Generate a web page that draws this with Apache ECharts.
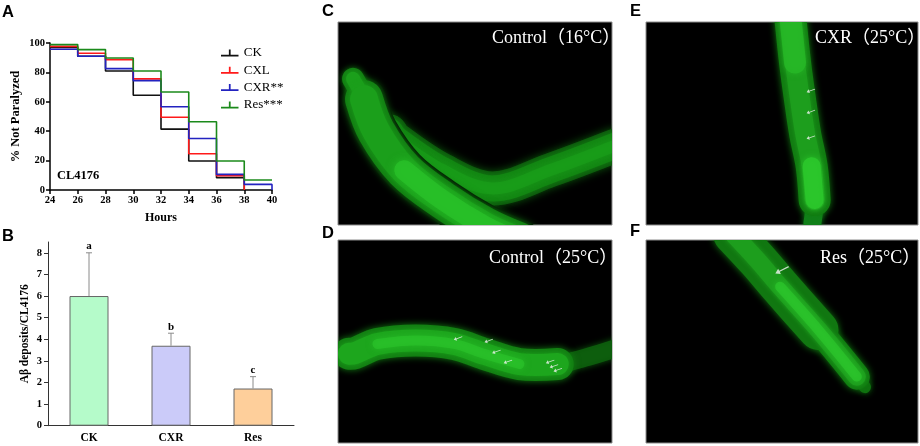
<!DOCTYPE html>
<html><head><meta charset="utf-8">
<script src="https://cdn.jsdelivr.net/npm/echarts@6/dist/echarts.min.js"></script>
<style>html,body{margin:0;padding:0;background:#fff}#c{width:920px;height:446px}</style>
</head><body><div id="c"></div>
<script>
// ---------- Panel A: % not paralyzed (step curves) ----------
const hours = [24,26,28,30,32,34,36,38,40];
const ckA  = [97,91,81,64.5,41.4,19.7,8.4,0];
const cxlA = [97.7,93,88.7,75.6,49.5,24.7,9.7,0];
const cxrA = [95.7,91,82.6,74.4,56.6,35,10.6,3.8,0];
const resA = [98.9,95.5,89.8,81,66.7,46.4,19.7,6.8,6.8];
const survivalNames = ['CK','CXL','CXR**','Res***'];
// ---------- Panel B: Aβ deposits ----------
const barCats = ['CK','CXR','Res'];
const barMeans = [6.0,3.7,1.72];
const barErrTop = [8.0,4.28,2.27];
const barLetters = ['a','b','c'];
const yTicksB = [0,1,2,3,4,5,6,7,8];
// ---------- Panels C–F: micrograph traces (percent of panel) ----------
const wormC1 = [[5.5,28],[9.5,38],[14,54],[24.2,73],[38.2,87.7],[53.6,100.5],[66,108]];
const wormC2 = [[19,54],[21.4,58],[38.2,73],[56.4,82],[77.4,73],[101,61]];
const wormD  = [[4,56],[6,55.8],[14.4,51.2],[28.4,49.5],[42.4,51.2],[53.6,56.2],[66.2,61.1],[80.2,61.1],[91.4,57.5],[101,53.5]];
const wormE  = [[53,-3],[54.8,20],[56.6,38],[58.5,55],[60.9,71],[62,87.7],[61.2,99]];
const wormF  = [[32,-3],[41,10],[49.3,23],[63.4,44.3],[77.5,67.3],[80.5,72.5]];
const arrowsD = [[43.8,48.4],[55,49.6],[57.8,55],[62,59.9],[77.4,59.9],[78.8,62.1],[80.2,64]];
const arrowsE = [[60.6,33.8],[60.6,44.2],[60.6,56.8]];
const arrowsF = [[50,14.8]];
const captions = ['Control（16°C）','Control（25°C）','CXR（25°C）','Res（25°C）'];

// ---------- styles ----------
const serif = '"Liberation Serif","Times New Roman","Noto Sans CJK SC",serif';
const sans = '"Liberation Sans",Arial,sans-serif';
const lineColors = ['#111111','#ff1a1a','#2323c0','#1b8a1b'];
const barColors = ['#b5fbca','#cbcbf9','#fecf9b'];

const chart = echarts.init(document.getElementById('c'));

const imgGrids = [
  {left:338, top:22, width:274, height:203},  // C
  {left:338, top:240, width:274, height:203}, // D
  {left:646, top:22, width:272, height:203},  // E
  {left:646, top:240, width:272, height:203}  // F
];

const grids = [
  {left:50, top:43, width:222, height:147},
  {left:48, top:242, width:246, height:183.7}
].concat(imgGrids.map(g => Object.assign({show:true, backgroundColor:'#000', borderColor:'#8c8c8c', borderWidth:1}, g)));

const boldLbl = (s) => ({fontFamily:serif, fontWeight:'bold', fontSize:s, color:'#000'});

const xAxes = [
  {gridIndex:0, type:'value', min:24, max:40, interval:2,
   axisLine:{lineStyle:{color:'#000', width:1.5}}, axisTick:{length:4, lineStyle:{color:'#000', width:1.5}},
   axisLabel:Object.assign({margin:5}, boldLbl(10.5)), splitLine:{show:false},
   name:'Hours', nameLocation:'middle', nameGap:22, nameTextStyle:boldLbl(12)},
  {gridIndex:1, type:'category', data:barCats,
   axisLine:{lineStyle:{color:'#333', width:1}},
   axisTick:{alignWithLabel:true, length:4, interval:(i)=>i===1, lineStyle:{color:'#333'}},
   axisLabel:Object.assign({margin:7}, boldLbl(11.5))}
];
const yAxes = [
  {gridIndex:0, type:'value', min:0, max:100, interval:20,
   axisLine:{show:true, lineStyle:{color:'#000', width:1.5}}, axisTick:{show:true, length:4, lineStyle:{color:'#000', width:1.5}},
   axisLabel:Object.assign({margin:5}, boldLbl(10.5)), splitLine:{show:false},
   name:'% Not Paralyzed', nameLocation:'middle', nameGap:28, nameTextStyle:boldLbl(12.5)},
  {gridIndex:1, type:'value', min:0, max:8.5, interval:1,
   axisLine:{show:true, lineStyle:{color:'#333', width:1}},
   axisTick:{show:true, length:4, customValues:yTicksB, lineStyle:{color:'#333'}},
   axisLabel:Object.assign({margin:6, customValues:yTicksB}, boldLbl(10.5)), splitLine:{show:false},
   name:'Aβ deposits/CL4176', nameLocation:'middle', nameGap:17, nameTextStyle:boldLbl(11.5)}
];
for (let i = 0; i < 4; i++) {
  xAxes.push({gridIndex:i+2, type:'value', min:0, max:100, show:false});
  yAxes.push({gridIndex:i+2, type:'value', min:0, max:100, inverse:true, show:false});
}

const series = [];
[ckA, cxlA, cxrA, resA].forEach((vals, k) => {
  series.push({type:'line', name:survivalNames[k], xAxisIndex:0, yAxisIndex:0, step:'end', symbol:'none',
    data: vals.map((v, i) => [hours[i], v]), color:lineColors[k],
    lineStyle:{width:1.6, color:lineColors[k]}, z:3});
});
series.push({type:'bar', name:'deposits', xAxisIndex:1, yAxisIndex:1, barWidth:39,
  data: barMeans.map((v, i) => ({value:v, itemStyle:{color:barColors[i]}})),
  itemStyle:{borderColor:'#666', borderWidth:1}, z:2});
series.push({type:'custom', name:'err', xAxisIndex:1, yAxisIndex:1, z:3,
  data: barCats.map((c, i) => [i, barMeans[i], barErrTop[i]]),
  renderItem(params, api) {
    const x = api.value(0);
    const p0 = api.coord([x, api.value(1)]);
    const p1 = api.coord([x, api.value(2)]);
    return {type:'group', children:[
      {type:'line', shape:{x1:p0[0], y1:p0[1], x2:p1[0], y2:p1[1]}, style:{stroke:'#8a8a8a', lineWidth:1}},
      {type:'line', shape:{x1:p1[0]-3, y1:p1[1], x2:p1[0]+3, y2:p1[1]}, style:{stroke:'#8a8a8a', lineWidth:1}},
      {type:'text', x:p1[0], y:p1[1]-1, style:{text:barLetters[params.dataIndex], align:'center', verticalAlign:'bottom',
        font:'bold 11px "Liberation Serif", serif', fill:'#000'}}
    ]};
  }});

// micrograph traces drawn as thick smooth strokes through each panel's own axes, clipped to the panel
function worm(gi, pts, width, color, blur, opacity) {
  series.push({type:'custom', xAxisIndex:gi, yAxisIndex:gi, data:pts, clip:true, silent:true, z:2,
    renderItem(params, api) {
      if (params.dataIndex !== 0) return;
      const p = pts.map(d => api.coord(d));
      return {type:'polyline', shape:{points:p, smooth:0.35},
        style:{stroke:color, fill:null, lineWidth:width, lineCap:'round', lineJoin:'round',
          opacity:opacity == null ? 1 : opacity, shadowBlur:blur || 0, shadowColor:color}};
    }});
}
// C (grid 2)
worm(2, wormC2, 34, '#0e5f0e', 8, 0.9);
worm(2, wormC2, 26, '#148814', 5, 0.95);
worm(2, wormC2, 12, '#1a9e1a', 6, 0.7);
worm(2, wormC1.slice(1), 44, '#020a02', 0);
worm(2, wormC1, 22, '#137f13', 6);
worm(2, wormC1.slice(1), 38, '#137f13', 8);
worm(2, wormC1, 14, '#1b9f1b', 5);
worm(2, wormC1.slice(1), 28, '#1b9f1b', 6);
worm(2, wormC1.slice(3), 20, '#28c028', 8, 0.85);
// D (grid 3)
worm(3, wormD, 18, '#0d5f0d', 6, 0.9);
worm(3, wormD.slice(0, 8), 32, '#137f13', 7);
worm(3, wormD.slice(0, 8), 22, '#1ea61e', 5, 0.95);
worm(3, wormD.slice(2, 7), 10, '#2cc42c', 6, 0.6);
// E (grid 4)
worm(4, wormE, 18, '#11801a', 6);
worm(4, wormE.slice(0, 6), 32, '#127c12', 7);
worm(4, wormE.slice(0, 6), 20, '#1e9f1e', 5, 0.9);
worm(4, wormE.slice(0, 2), 22, '#27b827', 6, 0.8);
worm(4, wormE.slice(4, 6), 18, '#2bc62b', 7, 0.9);
// F (grid 5)
worm(5, wormF, 12, '#0f700f', 6);
worm(5, wormF.slice(0, 5), 26, '#127c12', 7);
worm(5, wormF.slice(0, 4), 40, '#117711', 7);
worm(5, wormF.slice(0, 5), 18, '#1e9f1e', 5, 0.9);
worm(5, wormF.slice(2, 5), 10, '#2cc62c', 6, 0.7);

const arrowPath = 'path://M5,0L10,5L6,5L6,16L4,16L4,5L0,5Z';
[[3, arrowsD, [4,9], 110], [4, arrowsE, [4,9], 110], [5, arrowsF, [6,15], 117]].forEach(a => {
  series.push({type:'scatter', xAxisIndex:a[0], yAxisIndex:a[0], data:a[1], symbol:arrowPath,
    symbolSize:a[2], symbolRotate:a[3], itemStyle:{color:'#f4f4f4'}, silent:true, z:4});
});

const capPos = [[492,38],[489,258],[815,38],[820,258]];
const letters = [['A',2,12.5],['B',2,236],['C',322,11],['D',322,233.5],['E',630,11],['F',630,231.5]];
const graphic = [];
letters.forEach(l => graphic.push({type:'text', x:l[1], y:l[2], style:{text:l[0], font:'bold 16.5px ' + sans, fill:'#000', verticalAlign:'middle'}}));
captions.forEach((t, i) => graphic.push({type:'text', x:capPos[i][0], y:capPos[i][1], z:10,
  style:{text:t, font:'18px ' + serif, fill:'#ffffff', verticalAlign:'middle'}}));
graphic.push({type:'text', x:57, y:176, style:{text:'CL4176', font:'bold 12.5px ' + serif, fill:'#000', verticalAlign:'middle'}});

chart.setOption({
  animation:false,
  backgroundColor:'#fff',
  grid:grids, xAxis:xAxes, yAxis:yAxes,
  legend:{data:survivalNames, orient:'vertical', left:216, top:41.5, itemWidth:18, itemHeight:7, itemGap:4.3,
    icon:'path://M0,6L9,6L9,0L11,0L11,6L20,6L20,8L0,8Z', selectedMode:false,
    textStyle:{fontFamily:serif, fontSize:13, color:'#000', lineHeight:13}},
  series:series,
  graphic:graphic
});
</script></body></html>
